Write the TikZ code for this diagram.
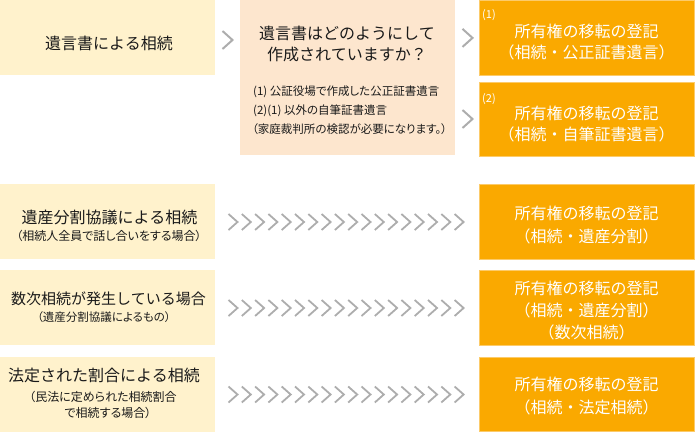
\documentclass[tikz,border=0pt]{standalone}
\usepackage{fontspec}
\setmainfont{Noto Sans CJK JP}
\newfontfamily\propfont{Noto Sans CJK JP}[RawFeature=+palt]
\usetikzlibrary{calc}
\definecolor{ybox}{HTML}{FFF2CC}
\definecolor{pbox}{HTML}{FDE6CE}
\definecolor{obox}{HTML}{FAA900}
\definecolor{oedge}{HTML}{FCCB6A}
\definecolor{chevc}{HTML}{ADADAD}
\definecolor{ink}{HTML}{1A1A1A}
\begin{document}
\begin{tikzpicture}[x=1pt,y=-1pt,
  boxbase/.style={anchor=north west, inner sep=0pt, outer sep=0pt, minimum width=215pt, minimum height=75pt},
  ybx/.style={boxbase, fill=ybox},
  pbx/.style={boxbase, fill=pbox, minimum height=155pt},
  obx/.style={boxbase, fill=obox, draw=oedge, line width=0.7pt},
  bigtxt/.style={font=\fontsize{16}{20}\selectfont, text=ink, anchor=base, inner sep=0pt},
  midtxt/.style={font=\fontsize{15}{20}\selectfont, text=ink, anchor=base, inner sep=0pt},
  subtxt/.style={font=\propfont\fontsize{12}{15}\selectfont, text=ink, anchor=base, inner sep=0pt},
  psubtxt/.style={font=\propfont\fontsize{11.5}{15}\selectfont, text=ink, anchor=base west, inner sep=0pt},
  wtxt/.style={font=\fontsize{16}{20}\selectfont, text=white, anchor=base, inner sep=0pt},
  numtxt/.style={font=\fontsize{11}{12}\selectfont, text=white, anchor=center, inner sep=0pt},
  bigchev/.pic={\draw[chevc, line width=2pt, line cap=butt, line join=miter] (-5,-9) -- (5,0) -- (-5,9);},
  rowchev/.pic={\draw[chevc, line width=1.8pt, line cap=butt, line join=miter] (-4.5,-8) -- (4.5,0) -- (-4.5,8);}
]
\useasboundingbox (0,0) rectangle (695,432);

% boxes
\node[ybx] (y1) at (0,0) {};
\node[pbx] (p1) at (240,0) {};
\node[obx] (o1) at (479,0.4) {};
\node[obx, minimum height=74pt] (o2) at (479,82) {};
\node[ybx] (y3) at (0,184) {};
\node[obx] (o3) at (479,184) {};
\node[ybx] (y4) at (0,270) {};
\node[obx] (o4) at (479,270) {};
\node[ybx] (y5) at (0,357) {};
\node[obx, minimum height=74pt] (o5) at (479,357) {};

% texts: first row
\node[bigtxt] (t1) at (109,49) {遺言書による相続};
\node[bigtxt] (tp1) at (347,39) {遺言書はどのようにして};
\node[bigtxt] (tp2) at (347,60) {作成されていますか？};
\node[psubtxt] (sp1) at (253,95) {(1) 公証役場で作成した公正証書遺言};
\node[psubtxt] (sp2) at (253,114) {(2)(1) 以外の自筆証書遺言};
\node[psubtxt] (sp3) at (252,133) {（家庭裁判所の検認が必要になります。）};

\node[numtxt] (n1) at (489,15) {(1)};
\node[wtxt] (a1) at (586.5,37) {所有権の移転の登記};
\node[wtxt] (a2) at (586.5,58) {（相続・公正証書遺言）};
\node[numtxt] (n2) at (489,99) {(2)};
\node[wtxt] (b1) at (586.5,119) {所有権の移転の登記};
\node[wtxt] (b2) at (586.5,140) {（相続・自筆証書遺言）};

% row 3
\node[bigtxt] (t3) at (109.5,223) {遺産分割協議による相続};
\node[subtxt] (s3) at (109,240) {（相続人全員で話し合いをする場合）};
\node[wtxt] (c1) at (586.5,219) {所有権の移転の登記};
\node[wtxt] (c2) at (586.5,242) {（相続・遺産分割）};

% row 4
\node[midtxt] (t4) at (108.5,304) {数次相続が発生している場合};
\node[subtxt, font=\propfont\fontsize{11.5}{15}\selectfont] (s4) at (104,321.5) {（遺産分割協議によるもの）};
\node[wtxt] (d1) at (586.5,294) {所有権の移転の登記};
\node[wtxt] (d2) at (586.5,316) {（相続・遺産分割）};
\node[wtxt] (d3) at (586.5,338) {（数次相続）};

% row 5
\node[bigtxt] (t5) at (104,381) {法定された割合による相続};
\node[subtxt] (s5a) at (103,401.5) {（民法に定められた相続割合};
\node[subtxt] (s5b) at (108,417.5) {で相続する場合）};
\node[wtxt] (e1) at (586.5,390) {所有権の移転の登記};
\node[wtxt] (e2) at (586.5,413) {（相続・法定相続）};

% connectors
\pic at ($(y1.east)!0.5!(p1.west |- y1.east)+(0,2.5)$) {bigchev};
\pic at ($(p1.east |- o1.center)!0.5!(o1.west)+(0.5,0)$) {bigchev};
\pic at ($(p1.east |- o2.center)!0.5!(o2.west)+(0.5,0)$) {bigchev};
\foreach \r/\s in {y3/o3, y4/o4, y5/o5}{
  \foreach \i in {0,...,17}{
    \pic at ($(\r.east |- \s.center)+(18+\i*13.3,0.5)$) {rowchev};
  }
}
\end{tikzpicture}
\end{document}
